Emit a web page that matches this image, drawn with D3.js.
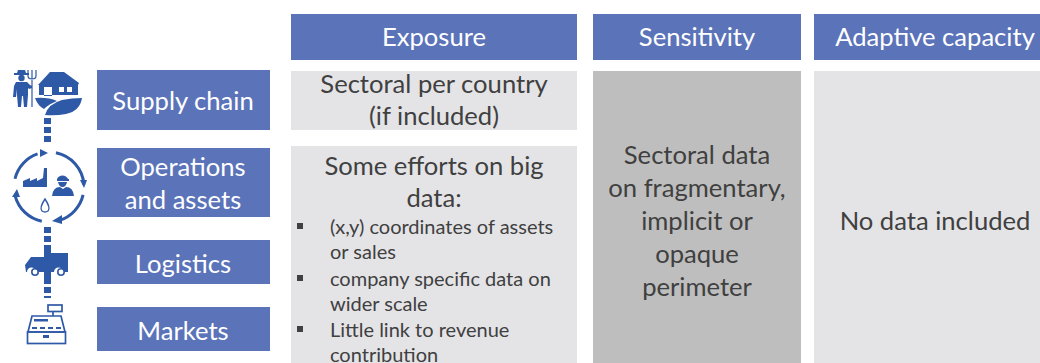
<!DOCTYPE html>
<html>
<head>
<meta charset="utf-8">
<script src="https://d3js.org/d3.v7.min.js"></script>
<style>
  html, body { margin: 0; padding: 0; background: #fff; overflow: hidden; }
  text { font-family: Lato, "Open Sans", sans-serif; }
</style>
</head>
<body>
<div id="mainView"></div>
<script>
// Table content
const columns = ['Exposure', 'Sensitivity', 'Adaptive capacity'];
const stages = [['Supply chain'], ['Operations', 'and assets'], ['Logistics'], ['Markets']];
const exposureTop = ['Sectoral per country', '(if included)'];
const exposureHead = ['Some efforts on big', 'data:'];
const exposureBullets = [
  ['(x,y) coordinates of assets', 'or sales'],
  ['company specific data on', 'wider scale'],
  ['Little link to revenue', 'contribution']
];
const sensitivityText = ['Sectoral data', 'on fragmentary,', 'implicit or', 'opaque', 'perimeter'];
const adaptiveText = ['No data included'];

const blue = '#5b73b9';
const iconBlue = '#2e59a7';
const lightGrey = '#e4e4e7';
const midGrey = '#bebebe';
const ink = '#404040';
const bigFont = 25.6;
const smallFont = 20;

const svg = d3.select('#mainView').append('svg').attr('width', 1040).attr('height', 363);

// Layout scales
const colLeft = d3.scaleOrdinal().domain(columns).range([291, 593, 814]);
const colRight = d3.scaleOrdinal().domain(columns).range([577, 801, 1040]);
const stageNames = stages.map(d => d.join(' '));
const stageTop = d3.scaleOrdinal().domain(stageNames).range([70, 148, 240, 307]);
const stageBottom = d3.scaleOrdinal().domain(stageNames).range([130, 217, 284, 351]);

function box(x0, y0, x1, y1, fill) {
  svg.append('rect').attr('x', x0).attr('y', y0)
      .attr('width', x1 - x0).attr('height', y1 - y0).attr('fill', fill);
}

function lines(list, cx, firstBaseline, lineHeight, size, color, anchor) {
  list.forEach(function(line, i) {
    svg.append('text')
        .attr('x', cx)
        .attr('y', firstBaseline + i * lineHeight)
        .attr('text-anchor', anchor || 'middle')
        .attr('font-size', size)
        .attr('fill', color)
        .text(line);
  });
}

// Column headers
const headerCentre = [434, 697, 935];
columns.forEach(function(c, i) {
  box(colLeft(c), 14, colRight(c), 60, blue);
  lines([c], headerCentre[i], 46, 0, bigFont, '#fff');
});

// Stage labels on the left
const stageBaseline = [110, 176, 273, 340];
stages.forEach(function(s, i) {
  const key = s.join(' ');
  box(97, stageTop(key), 270, stageBottom(key), blue);
  lines(s, 183, stageBaseline[i], 33, bigFont, '#fff');
});

// Body cells
box(colLeft(columns[0]), 71, colRight(columns[0]), 130, lightGrey);
box(colLeft(columns[0]), 146, colRight(columns[0]), 363, lightGrey);
box(colLeft(columns[1]), 71, colRight(columns[1]), 363, midGrey);
box(colLeft(columns[2]), 71, colRight(columns[2]), 363, lightGrey);

lines(exposureTop, 434, 93, 32, bigFont, ink);
lines(exposureHead, 434, 175, 32, bigFont, ink);

const bulletBaseline = [234, 286, 337];
exposureBullets.forEach(function(b, i) {
  svg.append('rect').attr('x', 297).attr('y', bulletBaseline[i] - 11)
      .attr('width', 6).attr('height', 6).attr('fill', ink);
  lines(b, 330, bulletBaseline[i], 25, smallFont, ink, 'start');
});

lines(sensitivityText, 697, 164, 33, bigFont, ink);
lines(adaptiveText, 935, 230, 0, bigFont, ink);

// Icons down the left side
const icons = svg.append('g').attr('fill', iconBlue);

// dashed connector
[[118, 145], [227, 252], [278, 298]].forEach(function(seg) {
  icons.append('line').attr('x1', 47.5).attr('x2', 47.5)
      .attr('y1', seg[0]).attr('y2', seg[1])
      .attr('stroke', iconBlue).attr('stroke-width', 7)
      .attr('stroke-dasharray', '6 3');
});

// farmer and house
icons.append('path').attr('d', 'M18 70h7l1 3h3v2h-15v-2h3z');
icons.append('circle').attr('cx', 21.5).attr('cy', 78).attr('r', 3.2);
icons.append('path').attr('d', 'M16 82h11l3 3l2 1v2l-3 1l-1-1v7l-1 12h-3l-1-11h-1l-1 11h-3l-1-12v-6l-1 8h-3l1-11z');
icons.append('path').attr('fill', 'none').attr('stroke', iconBlue).attr('stroke-width', 1.2)
    .attr('d', 'M32 107V80M28 70v6q0 3 4 3t4-3v-6M32 70v9');
icons.append('path').attr('d', 'M38 85l12-13h14l15 11l-1 2v10h-39v-10zM44 87v9h8v-9zM59 87v5h5v-5zM67 87v5h5v-5z');
icons.append('path').attr('d', 'M35 98q13-1 22 3q-8 3-13 8q-6-3-9-11zM82 98q-2 13-16 16q-10 2-21 1q3-11 17-15q10-2 20-2z');

// circular arrows with factory, worker and drop
const arcGen = d3.arc().innerRadius(33.5).outerRadius(36.5);
[[0.2, 1.5], [1.8, 2.85], [3.35, 4.45], [4.95, 5.95]].forEach(function(a) {
  icons.append('path').attr('transform', 'translate(49,187)')
      .attr('d', arcGen({startAngle: a[0], endAngle: a[1]}));
});
icons.append('path').attr('d', 'M40 149l8 4l-8 4z');
icons.append('path').attr('d', 'M80 180h7l-3 8z');
icons.append('path').attr('d', 'M62 215v9l-10-3z');
icons.append('path').attr('d', 'M12 197h8l-3-8z');
icons.append('path').attr('d', 'M23 187v-6l7-3v3l7-3v3l6-3l1-10h3v19z');
icons.append('path').attr('d', 'M57 179a6 6 0 0 1 11 0h1v2h-12zM58 182h9q-1 5-4.500 5t-4.500-5z');
icons.append('path').attr('d', 'M52 196q1-9 8-9l3 2l3-2q7 0 8 9z');
icons.append('path').attr('fill', 'none').attr('stroke', iconBlue).attr('stroke-width', 1.4)
    .attr('d', 'M45 199q-6 9-3 12q3 2 6 0q3-3-3-12z');

// truck
icons.append('path').attr('d', 'M44 250h7v3h17v19h-5a4.500 4.500 0 0 0-9 0h-3v6h-7v-6h-8a4.500 4.500 0 0 0-9 0h-1l-1-7l6-8h13z');
[35, 61].forEach(function(cx) {
  icons.append('circle').attr('cx', cx).attr('cy', 272).attr('r', 3.2).attr('fill', '#fff')
      .attr('stroke', iconBlue).attr('stroke-width', 1.6);
});

// cash register
const till = icons.append('g').attr('fill', 'none').attr('stroke', iconBlue).attr('stroke-width', 1.7);
till.append('rect').attr('x', 48).attr('y', 305).attr('width', 14).attr('height', 6.5);
till.append('path').attr('d', 'M53 312v4M32 316h29l4 16H28z');
till.append('rect').attr('x', 27.500).attr('y', 332).attr('width', 38).attr('height', 11.500);
icons.append('rect').attr('x', 34).attr('y', 319).attr('width', 14).attr('height', 2.500);
icons.append('path').attr('d', 'M32 327h5v2h-5zM40 327h5v2h-5zM48 327h5v2h-5zM56 327h5v2h-5zM43 335h6v3h-6z');
</script>
</body>
</html>
